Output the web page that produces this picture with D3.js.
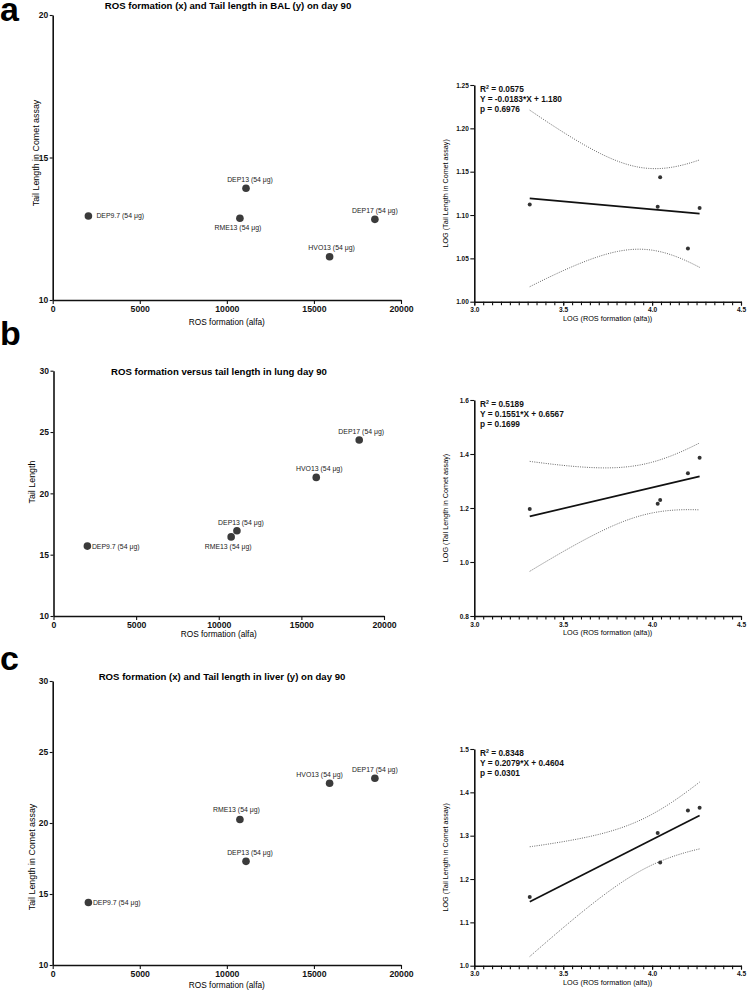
<!DOCTYPE html>
<html>
<head>
<meta charset="utf-8">
<script src="https://cdn.jsdelivr.net/npm/d3@7"></script>
<style>
body { margin: 0; background: #fff; }
svg { font-family: "Liberation Sans", Arial, sans-serif; display: block; }
</style>
</head>
<body>
<svg id="fig" width="747" height="992"></svg>
<script>
// values
const samples = ["DEP9.7", "RME13", "DEP13", "HVO13", "DEP17"];
const dose = "(54 μg)";
const ros = [2050, 10750, 11100, 15900, 18500];
const tailBAL = [12.95, 12.87, 13.92, 11.52, 12.83];
const tailLung = [15.7, 16.45, 16.95, 21.3, 24.35];
const tailLiver = [14.4, 20.25, 17.3, 22.8, 23.15];

const letters = ["a", "b", "c"];
const titles = [
  "ROS formation (x) and Tail length in BAL (y) on day 90",
  "ROS formation versus tail length in lung day 90",
  "ROS formation (x) and Tail length in liver (y) on day 90"
];
const yTitles = ["Tail Length in Comet assay", "Tail Length", "Tail Length in Comet assay"];
const r2Text = ["0.0575", "0.5189", "0.8348"];
const eqText = ["-0.0183*X + 1.180", "0.1551*X + 0.6567", "0.2079*X + 0.4604"];
const pText = ["0.6976", "0.1699", "0.0301"];

const rosTicks = [0, 5000, 10000, 15000, 20000];
const logRosTicks = [3.0, 3.5, 4.0, 4.5];
const tailTicks = [[10, 15, 20], [10, 15, 20, 25, 30], [10, 15, 20, 25, 30]];
const logTailTicks = [
  [1.00, 1.05, 1.10, 1.15, 1.20, 1.25],
  [0.8, 1.0, 1.2, 1.4, 1.6],
  [1.0, 1.1, 1.2, 1.3, 1.4, 1.5]
];
const tCrit = 3.182; // 95%, df = 3

const tails = [tailBAL, tailLung, tailLiver];

// where things sit on the page
const layout = [
  { letterY: 21, titleX: 228, titleY: 9,
    lx: [52.7, 401], ly: [300, 15], yTitleX: 39, yTitleY: 153, xTitleY: 325,
    ry: [301.7, 85], fmt: ".2f",
    labels: [[8, 2.5, "start"], [-2, 12, "middle"], [4, -6, "middle"], [2, -6.5, "middle"], [0, -6, "middle"]] },
  { letterY: 345, titleX: 219, titleY: 375,
    lx: [53.5, 384], ly: [616, 370.7], yTitleX: 35, yTitleY: 482, xTitleY: 637,
    ry: [616, 400], fmt: ".1f",
    labels: [[4.5, 2.5, "start"], [-3, 12, "middle"], [4, -6, "middle"], [3, -6.5, "middle"], [2, -6, "middle"]] },
  { letterY: 670, titleX: 222, titleY: 680,
    lx: [52.7, 401], ly: [965, 681], yTitleX: 35, yTitleY: 857, xTitleY: 988,
    ry: [965.7, 749], fmt: ".1f",
    labels: [[4.5, 2.5, "start"], [-3.5, -7.5, "middle"], [4, -6.5, "middle"], [-10, -6, "middle"], [0, -6, "middle"]] }
];

const svg = d3.select("#fig");
const rx = d3.scaleLinear().domain([3.0, 4.5]).range([474.3, 741]);

function styleAxis(g, fs, bold) {
  g.select(".domain").attr("stroke", "#111").attr("stroke-width", 1.6);
  g.selectAll(".tick line").attr("stroke", "#111").attr("stroke-width", 1.1);
  g.selectAll(".tick text")
      .attr("fill", "#111")
      .attr("font-size", fs)
      .attr("font-weight", bold ? "bold" : "normal")
      .attr("font-family", "Liberation Sans, Arial, sans-serif");
}

function regression(xs, ys) {
  const n = xs.length;
  const mx = d3.mean(xs), my = d3.mean(ys);
  const sxx = d3.sum(xs, function (v) { return (v - mx) * (v - mx) });
  const sxy = d3.sum(xs, function (v, i) { return (v - mx) * (ys[i] - my) });
  const b = sxy / sxx;
  const a = my - b * mx;
  const sse = d3.sum(xs, function (v, i) { const e = ys[i] - (a + b * v); return e * e });
  const s = Math.sqrt(sse / (n - 2));
  return { n: n, mx: mx, sxx: sxx, a: a, b: b, s: s };
}

layout.forEach(function (L, k) {
  const tail = tails[k];

  // panel letter
  svg.append("text")
      .attr("x", 0).attr("y", L.letterY)
      .attr("font-size", 34).attr("font-weight", "bold")
      .text(letters[k]);

  // ---- left scatter ----
  const x = d3.scaleLinear().domain([0, 20000]).range(L.lx);
  const y = d3.scaleLinear().domain([10, tailTicks[k][tailTicks[k].length - 1]]).range(L.ly);

  svg.append("text")
      .attr("x", L.titleX).attr("y", L.titleY)
      .attr("text-anchor", "middle")
      .attr("font-size", 9.6).attr("font-weight", "bold")
      .text(titles[k]);

  const gx = svg.append("g")
      .attr("transform", "translate(0," + L.ly[0] + ")")
      .call(d3.axisBottom(x).tickValues(rosTicks).tickSize(4).tickSizeOuter(0).tickPadding(2)
        .tickFormat(d3.format("d")));
  styleAxis(gx, 8.7, true);

  const gy = svg.append("g")
      .attr("transform", "translate(" + L.lx[0] + ",0)")
      .call(d3.axisLeft(y).tickValues(tailTicks[k]).tickSize(3).tickSizeOuter(0).tickPadding(1.5)
        .tickFormat(d3.format("d")));
  styleAxis(gy, 8.5, true);

  svg.append("text")
      .attr("x", d3.mean(L.lx)).attr("y", L.xTitleY)
      .attr("text-anchor", "middle").attr("font-size", 8.3)
      .text("ROS formation (alfa)");

  svg.append("text")
      .attr("transform", "translate(" + L.yTitleX + "," + L.yTitleY + ") rotate(-90)")
      .attr("text-anchor", "middle").attr("font-size", 8.9)
      .text(yTitles[k]);

  svg.append("g")
    .selectAll("circle")
    .data(samples)
    .join("circle")
      .attr("cx", function (d, i) { return x(ros[i]) })
      .attr("cy", function (d, i) { return y(tail[i]) })
      .attr("r", 3.8)
      .attr("fill", "#3b3b3b");

  svg.append("g")
    .selectAll("text")
    .data(samples)
    .join("text")
      .attr("x", function (d, i) { return x(ros[i]) + L.labels[i][0] })
      .attr("y", function (d, i) { return y(tail[i]) + L.labels[i][1] })
      .attr("text-anchor", function (d, i) { return L.labels[i][2] })
      .attr("font-size", 6.9)
      .attr("fill", "#222")
      .text(function (d) { return d + " " + dose });

  // ---- right regression on logs ----
  const lxs = ros.map(function (v) { return Math.log10(v) });
  const lys = tail.map(function (v) { return Math.log10(v) });
  const ticks = logTailTicks[k];
  const ry = d3.scaleLinear().domain([ticks[0], ticks[ticks.length - 1]]).range(L.ry);

  const minor = d3.range(30, 46, 0.5).map(function (v) { return v / 10 });
  const gm = svg.append("g")
      .attr("transform", "translate(0," + L.ry[0] + ")")
      .call(d3.axisBottom(rx).tickValues(minor).tickSize(3.5).tickSizeOuter(0).tickFormat(""));
  styleAxis(gm, 7, true);
  gm.select(".domain").remove();

  const grx = svg.append("g")
      .attr("transform", "translate(0," + L.ry[0] + ")")
      .call(d3.axisBottom(rx).tickValues(logRosTicks).tickSize(4).tickSizeOuter(0).tickPadding(2)
        .tickFormat(d3.format(".1f")));
  styleAxis(grx, 6.6, true);

  const gry = svg.append("g")
      .attr("transform", "translate(" + rx.range()[0] + ",0)")
      .call(d3.axisLeft(ry).tickValues(ticks).tickSize(4).tickSizeOuter(0).tickPadding(1.5)
        .tickFormat(d3.format(L.fmt)));
  styleAxis(gry, 6.5, true);

  svg.append("text")
      .attr("x", d3.mean(rx.range())).attr("y", L.ry[0] + 19)
      .attr("text-anchor", "middle").attr("font-size", 7.3)
      .text("LOG (ROS formation (alfa))");

  svg.append("text")
      .attr("transform", "translate(448," + d3.mean(L.ry) + ") rotate(-90)")
      .attr("text-anchor", "middle").attr("font-size", 7.2)
      .text("LOG (Tail Length in Comet assay)");

  const fit = regression(lxs, lys);
  const x0 = d3.min(lxs), x1 = d3.max(lxs);
  const grid = d3.range(0, 61).map(function (j) { return x0 + (x1 - x0) * j / 60 });
  function half(v) {
    return tCrit * fit.s * Math.sqrt(1 / fit.n + (v - fit.mx) * (v - fit.mx) / fit.sxx);
  }
  const line = d3.line()
      .x(function (d) { return rx(d[0]) })
      .y(function (d) { return ry(d[1]) });

  [1, -1].forEach(function (sgn) {
    svg.append("path")
        .datum(grid.map(function (v) { return [v, fit.a + fit.b * v + sgn * half(v)] }))
        .attr("d", line)
        .attr("fill", "none")
        .attr("stroke", "#555")
        .attr("stroke-width", 0.9)
        .attr("stroke-dasharray", "1,1.3");
  });

  svg.append("path")
      .datum([[x0, fit.a + fit.b * x0], [x1, fit.a + fit.b * x1]])
      .attr("d", line)
      .attr("fill", "none")
      .attr("stroke", "#111")
      .attr("stroke-width", 1.7);

  svg.append("g")
    .selectAll("circle")
    .data(lxs)
    .join("circle")
      .attr("cx", function (d) { return rx(d) })
      .attr("cy", function (d, i) { return ry(lys[i]) })
      .attr("r", 2)
      .attr("fill", "#333");

  const tx = 480, ty = L.ry[1] + 7;
  const stat = svg.append("g")
      .attr("font-size", 8.3).attr("font-weight", "bold").attr("fill", "#111");
  const r2 = stat.append("text").attr("x", tx).attr("y", ty);
  r2.append("tspan").text("R");
  r2.append("tspan").attr("font-size", 5.3).attr("dy", -3.2).text("2");
  r2.append("tspan").attr("dy", 3.2).text(" = " + r2Text[k]);
  stat.append("text").attr("x", tx).attr("y", ty + 9.8).text("Y = " + eqText[k]);
  stat.append("text").attr("x", tx).attr("y", ty + 19.6).text("p = " + pText[k]);
});
</script>
</body>
</html>
